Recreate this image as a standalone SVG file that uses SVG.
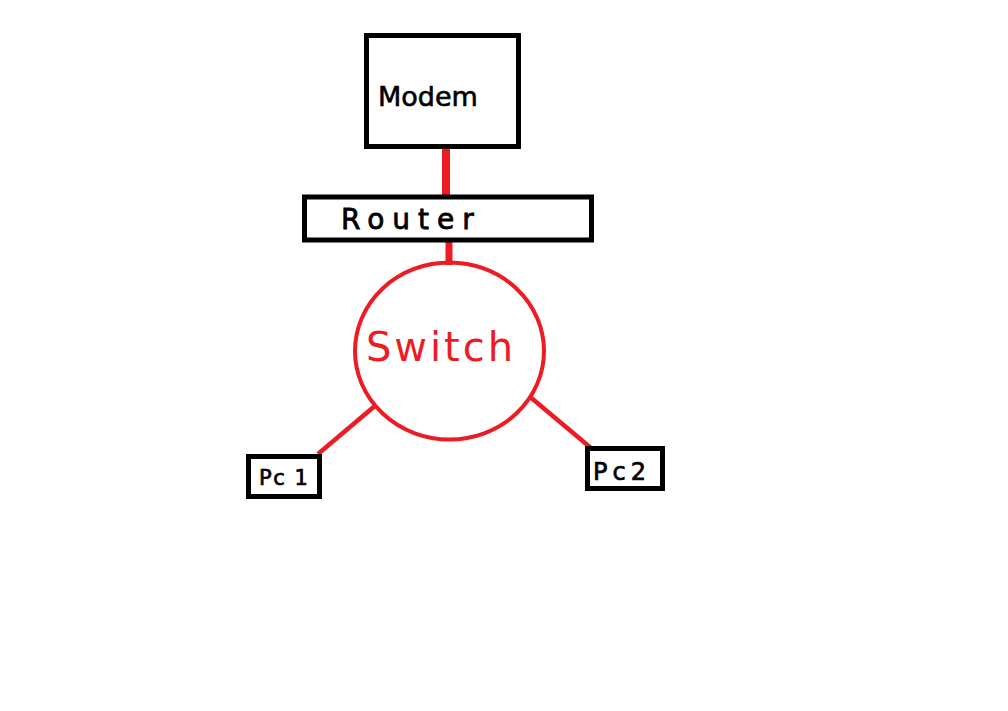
<svg xmlns="http://www.w3.org/2000/svg" width="1008" height="711" viewBox="0 0 1008 711">
<style>
.box{fill:#fff;stroke:#000;stroke-width:5}
.wire{stroke:#ED1C24;fill:none}
.lbl{font-family:"DejaVu Sans","Liberation Sans",sans-serif;fill:#000}
</style>
<rect width="1008" height="711" fill="#fff"/>
<g id="connectors">
<line class="wire" x1="446" y1="147" x2="446" y2="196" stroke-width="8"/>
<line class="wire" x1="449" y1="241" x2="449" y2="265" stroke-width="7"/>
<line class="wire" x1="318" y1="454" x2="376" y2="405" stroke-width="4.5"/>
<line class="wire" x1="529" y1="396" x2="591" y2="448" stroke-width="4.5"/>
</g>
<g id="modem">
<rect class="box" x="366.5" y="35.5" width="152" height="111"/>
<text class="lbl" x="378" y="106" font-size="27" stroke="#000" stroke-width="0.6">Modem</text>
</g>
<g id="router">
<rect class="box" x="304.5" y="197" width="287" height="43"/>
<text class="lbl" x="341" y="229" font-size="28" letter-spacing="8" stroke="#000" stroke-width="0.8">Router</text>
</g>
<g id="switch">
<ellipse cx="449.5" cy="351" rx="94.5" ry="88.5" fill="none" stroke="#ED1C24" stroke-width="4"/>
<text x="441" y="361" font-size="40" text-anchor="middle" fill="#ED1C24" font-family="DejaVu Sans, sans-serif" letter-spacing="3">Switch</text>
</g>
<g id="pc1">
<rect class="box" x="248.5" y="456.5" width="71" height="40"/>
<text class="lbl" x="259" y="485" font-size="21" letter-spacing="1.5" stroke="#000" stroke-width="0.7">Pc 1</text>
</g>
<g id="pc2">
<rect class="box" x="587.5" y="448.5" width="75" height="40"/>
<text class="lbl" x="593" y="480" font-size="24" letter-spacing="5" stroke="#000" stroke-width="0.7">Pc2</text>
</g>
</svg>
